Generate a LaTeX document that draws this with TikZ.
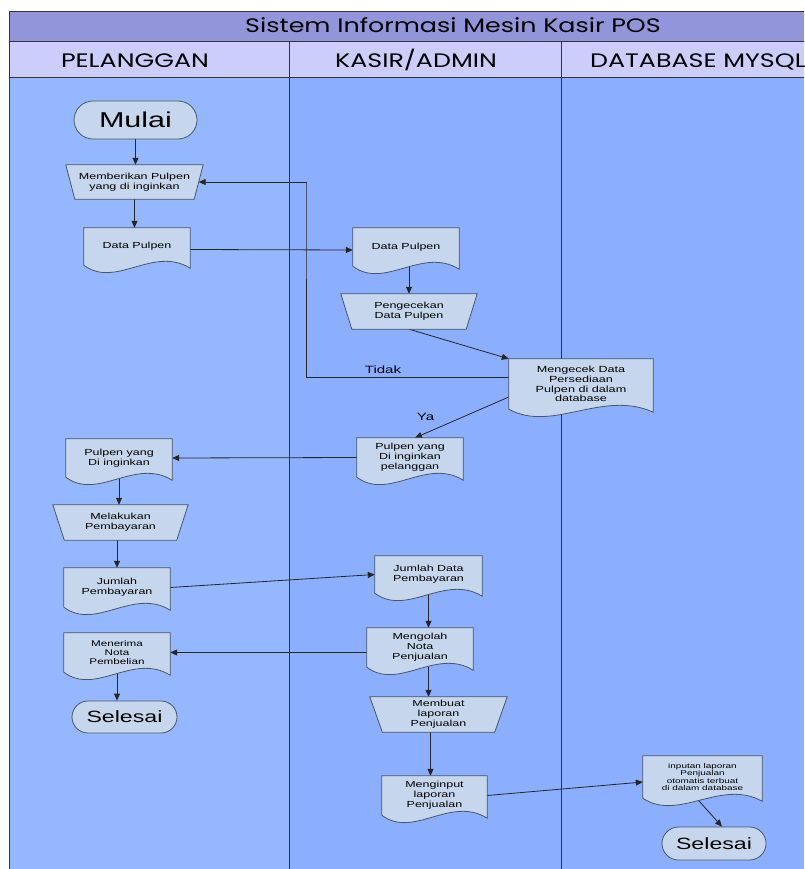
\documentclass[tikz,border=0pt]{standalone}
\usepackage{fontspec}
\newfontfamily\nf[FakeStretch=1.42]{Liberation Sans}
\newfontfamily\hf[FakeStretch=1.3]{Poppins}
\usetikzlibrary{calc,arrows.meta}
\pgfdeclarelayer{lanes}\pgfdeclarelayer{conn}\pgfdeclarelayer{shapes}
\pgfsetlayers{lanes,conn,shapes,main}
\definecolor{titlebg}{RGB}{147,149,218}
\definecolor{headbg}{RGB}{205,205,251}
\definecolor{laneA}{RGB}{148,183,255}
\definecolor{laneB}{RGB}{139,174,255}
\definecolor{shapefill}{RGB}{198,215,237}
\definecolor{shapeline}{RGB}{72,86,104}
\tikzset{
  shp/.style={fill=shapefill, draw=shapeline, line width=0.8pt},
  box/.style={inner sep=0pt, align=center, font=\nf\fontsize{8.8}{9.8}\selectfont},
  term/.style={shp, inner sep=0pt, align=center},
  arr/.style={draw=black!85, line width=0.8pt, -{Triangle[length=7pt,width=6pt]}},
  lbl/.style={font=\nf\fontsize{10.6}{12}\selectfont},
  poolline/.style={draw=black!80, line width=0.9pt},
  headtxt/.style={font=\hf\fontsize{19.5}{22}\selectfont, inner sep=0pt, anchor=base}
}
\newcommand\docpath[1]{\begin{pgfonlayer}{shapes}\path[shp] (#1.north west) -- (#1.north east) -- ($(#1.south east)+(0,3)$)
  .. controls ($(#1.south west)!0.65!(#1.south east)+(0,-20)$) and ($(#1.south west)!0.3!(#1.south east)+(0,24)$) .. (#1.south west) -- cycle;\end{pgfonlayer}}
\newcommand\trappath[2]{\begin{pgfonlayer}{shapes}\path[shp] ($(#1.north west)+(-#2,0)$) -- ($(#1.north east)+(#2,0)$) -- ($(#1.south east)+(-#2,0)$) -- ($(#1.south west)+(#2,0)$) -- cycle;\end{pgfonlayer}}
\begin{document}
\begin{tikzpicture}[x=1pt,y=-1pt]
\useasboundingbox (0,0) rectangle (804,869);
% pool
\begin{pgfonlayer}{lanes}
\fill[white] (0,0) rectangle (804,869);
\fill[titlebg] (9,11) rectangle (804,41);
\fill[headbg] (9,41) rectangle (804,77);
\fill[laneA] (9,77) rectangle (289,869);
\fill[laneB] (289,77) rectangle (804,869);
\draw[poolline] (804,11) -- (9,11) -- (9,869);
\draw[poolline] (9,41) -- (804,41);
\draw[poolline] (9,77) -- (804,77);
\draw[poolline] (289,41) -- (289,869);
\draw[poolline] (561,41) -- (561,869);
\end{pgfonlayer}
\node[headtxt] (title) at (453,33) {Sistem Informasi Mesin Kasir POS};
\node[headtxt] (h1) at (135,68) {PELANGGAN};
\node[headtxt] (h2) at (416,68) {KASIR/ADMIN};
\node[headtxt, anchor=base west] (h3) at (590,68) {DATABASE MYSQL};
% nodes
\node[term, minimum width=123pt, minimum height=38pt, rounded corners=19pt, font=\nf\fontsize{21.5}{24}\selectfont] (mulai) at (135.5,120) {Mulai};
\node[box, minimum width=128pt, minimum height=34pt] (mem) at (134.5,182) {Memberikan Pulpen\\yang di inginkan};
\trappath{mem}{4.5}
\node[box, minimum width=106pt, minimum height=37pt] (dpl) at (137,246.5) {Data Pulpen};
\docpath{dpl}
\node[box, minimum width=106pt, minimum height=38pt] (dpm) at (406,247) {Data Pulpen};
\docpath{dpm}
\node[box, minimum width=125pt, minimum height=35pt] (peng) at (409,311.5) {Pengecekan\\Data Pulpen};
\trappath{peng}{5.5}
\node[box, minimum width=144pt, minimum height=50pt, font=\nf\fontsize{8.9}{9.7}\selectfont] (cek) at (581,384) {Mengecek Data\\Persediaan\\Pulpen di dalam\\database};
\docpath{cek}
\node[box, minimum width=106pt, minimum height=39pt] (pmid) at (410,457.5) {Pulpen yang\\Di inginkan\\pelanggan};
\docpath{pmid}
\node[box, minimum width=106pt, minimum height=38pt] (pleft) at (119,458) {Pulpen yang\\Di inginkan};
\docpath{pleft}
\node[box, minimum width=123.5pt, minimum height=35pt] (mel) at (120.5,522.5) {Melakukan\\Pembayaran};
\trappath{mel}{5.75}
\node[box, minimum width=106pt, minimum height=39pt] (jp) at (117,587.5) {Jumlah\\Pembayaran};
\docpath{jp}
\node[box, minimum width=106pt, minimum height=39pt, font=\nf\fontsize{8.2}{9.3}\selectfont] (men) at (117,652.5) {Menerima\\Nota\\Pembelian};
\docpath{men}
\node[term, minimum width=105pt, minimum height=32pt, rounded corners=16pt, font=\nf\fontsize{16.3}{20}\selectfont] (sell) at (124.5,717) {Selesai};
\node[box, minimum width=107pt, minimum height=37pt] (jd) at (428.5,574.5) {Jumlah Data\\Pembayaran};
\docpath{jd}
\node[box, minimum width=106pt, minimum height=39pt] (mo) at (420,647.5) {Mengolah\\Nota\\Penjualan};
\docpath{mo}
\node[box, minimum width=124.5pt, minimum height=35pt] (mb) at (438.5,714.5) {Membuat\\laporan\\Penjualan};
\trappath{mb}{6.25}
\node[box, minimum width=105pt, minimum height=39pt] (mi) at (434.5,795.5) {Menginput\\laporan\\Penjualan};
\docpath{mi}
\node[box, minimum width=119pt, minimum height=42pt, font=\nf\fontsize{7}{7.3}\selectfont] (inp) at (702.5,777) {inputan laporan\\Penjualan\\otomatis terbuat\\di dalam database};
\docpath{inp}
\node[term, minimum width=104pt, minimum height=33pt, rounded corners=16.5pt, font=\nf\fontsize{16.3}{20}\selectfont] (selr) at (714,843.5) {Selesai};
% connectors
\coordinate (tk) at (306,183);
\begin{pgfonlayer}{conn}
\draw[arr] (mulai.south) -- (mulai.south |- mem.north);
\draw[arr] (mem.south) -- (mem.south |- dpl.north);
\draw[arr] ($(dpl.east)+(0,3)$) -- ($(dpm.west)+(0,3)$);
\draw[arr] (peng.north |- dpm.south) -- (peng.north);
\draw[arr] (peng.south) -- (cek.north west);
\draw[arr] ($(cek.west)+(0,-7)$) -| (tk) |- (mem.east);
\draw[arr] ($(cek.west)+(0,13)$) -- ($(pmid.north)+(5,0)$);
\draw[arr] (pmid.west) -- (pleft.east);
\draw[arr] (pleft.south) -- (pleft.south |- mel.north);
\draw[arr] (jp.north |- mel.south) -- (jp.north);
\draw[arr] (jp.east) -- (jd.west);
\draw[arr] (jd.south) -- (jd.south |- mo.north);
\draw[arr] (mo.west |- men.east) -- (men.east);
\draw[arr] (men.south) -- (men.south |- sell.north);
\draw[arr] (jd.south |- mo.south) -- (jd.south |- mb.north);
\draw[arr] ($(mb.south)+(-8,0)$) -- ($(mi.north)+(-4,0)$);
\draw[arr] (mi.east) -- ($(inp.west)+(0,5)$);
\draw[arr] ($(inp.south)+(-6,0)$) -- ($(selr.north)+(8,0)$);
\end{pgfonlayer}
\node[lbl] (tidak) at (383,370) {Tidak};
\node[lbl] (ya) at (425.5,417) {Ya};
\end{tikzpicture}
\end{document}
